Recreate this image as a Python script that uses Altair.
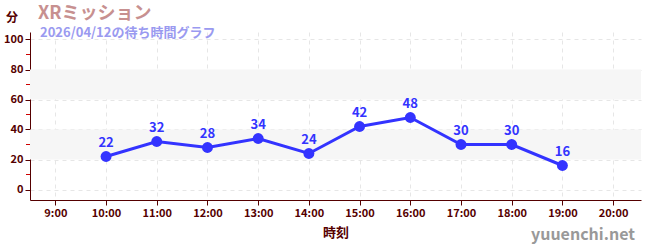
import altair as alt
import pandas as pd

hours = [10, 11, 12, 13, 14, 15, 16, 17, 18, 19]
waits = [22, 32, 28, 34, 24, 42, 48, 30, 30, 16]
band_lo = [20, 60]
band_hi = [40, 80]
minor_ticks = [10, 30, 50, 70, 90]
x_ticks = [9, 10, 11, 12, 13, 14, 15, 16, 17, 18, 19, 20]
y_ticks = [0, 20, 40, 60, 80, 100]

W, H = 611, 168
FONT = "Noto Sans CJK JP"
AX = "#550000"
BLUE = "#3333ff"

df = pd.DataFrame({"hour": hours, "wait": waits})
bands = pd.DataFrame({"lo": band_lo, "hi": band_hi})
minors = pd.DataFrame({"v": minor_ticks})

xs = alt.Scale(domain=[8.5, 20.55], nice=False, zero=False)
ys = alt.Scale(domain=[-7, 105], nice=False, zero=False)

xaxis = alt.Axis(values=x_ticks, labelExpr="datum.value + ':00'",
                 title="時刻", grid=True, gridDash=[4, 4], gridColor="#e6e6e6",
                 domainColor=AX, tickColor=AX, labelColor=AX, titleColor=AX,
                 labelFont=FONT, titleFont=FONT, labelFontSize=11, labelFontWeight="bold",
                 titleFontSize=13, titleFontWeight="bold", titlePadding=8, tickSize=5,
                 labelOverlap=False)
yaxis = alt.Axis(values=y_ticks, title=None, grid=True,
                 gridDash=[4, 4], gridColor="#e6e6e6",
                 domainColor=AX, tickColor=AX, labelColor=AX,
                 labelFont=FONT, labelFontSize=11, labelFontWeight="bold", tickSize=5,
                 labelOverlap=False, labelFlush=False)

band_layer = alt.Chart(bands).mark_rect(color="#f6f6f6").encode(
    x=alt.value(0), x2=alt.value(W),
    y=alt.Y("lo:Q", scale=ys, axis=yaxis), y2="hi:Q",
)

line = alt.Chart(df).mark_line(color=BLUE, strokeWidth=3).encode(
    x=alt.X("hour:Q", scale=xs, axis=xaxis),
    y=alt.Y("wait:Q", scale=ys, axis=yaxis),
)
pts = alt.Chart(df).mark_circle(color=BLUE, size=120, opacity=1).encode(
    x=alt.X("hour:Q", scale=xs, axis=xaxis), y=alt.Y("wait:Q", scale=ys, axis=yaxis))
labels = alt.Chart(df).mark_text(color=BLUE, font=FONT, fontSize=13, fontWeight="bold", dy=-14).encode(
    x=alt.X("hour:Q", scale=xs, axis=xaxis), y=alt.Y("wait:Q", scale=ys, axis=yaxis), text="wait:Q")

minor_layer = alt.Chart(minors).mark_rule(color="#cc0000", strokeWidth=1).encode(
    x=alt.value(-4), x2=alt.value(0), y=alt.Y("v:Q", scale=ys, axis=yaxis))

title = alt.Chart(pd.DataFrame({"t": ["XRミッション"]})).mark_text(
    color="#c79090", font=FONT, fontSize=18, fontWeight="bold", align="left", baseline="alphabetic"
).encode(x=alt.value(8), y=alt.value(-13), text="t:N")
subtitle = alt.Chart(pd.DataFrame({"t": ["2026/04/12の待ち時間グラフ"]})).mark_text(
    color="#9a9af0", font=FONT, fontSize=13, fontWeight="bold", align="left", baseline="alphabetic"
).encode(x=alt.value(10), y=alt.value(5), text="t:N")
unit = alt.Chart(pd.DataFrame({"t": ["分"]})).mark_text(
    color=AX, font=FONT, fontSize=12, fontWeight="bold", align="center", baseline="alphabetic"
).encode(x=alt.value(-18), y=alt.value(-10), text="t:N")
wm = alt.Chart(pd.DataFrame({"t": ["yuuenchi.net"]})).mark_text(
    color="#999999", font=FONT, fontSize=16, fontWeight="bold", align="right", baseline="alphabetic"
).encode(x=alt.value(W - 6), y=alt.value(H + 40), text="t:N")

chart = alt.layer(band_layer, line, pts, labels, minor_layer, title, subtitle, unit, wm).properties(
    width=W, height=H,
    autosize=alt.AutoSizeParams(type="none"),
    padding={"left": 30, "top": 32, "right": 9, "bottom": 50},
).configure(background="white", view=alt.ViewConfig(stroke=None))

chart.save("out.html", embed_options={"renderer": "svg", "actions": False})
